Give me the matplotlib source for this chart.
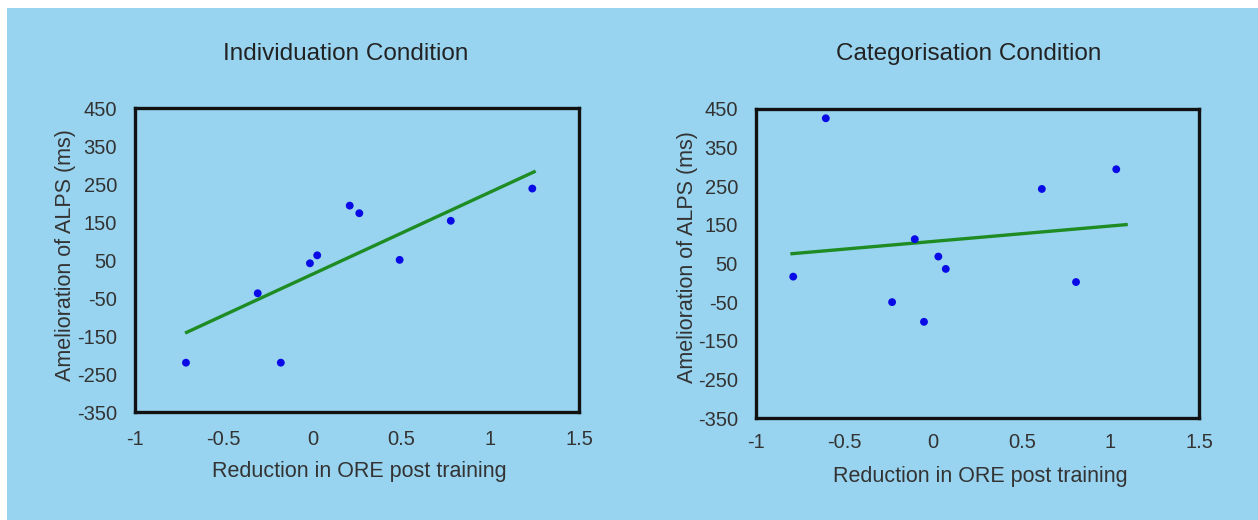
import matplotlib
matplotlib.use("Agg")
import matplotlib.pyplot as plt
from matplotlib.patches import Rectangle

plt.rcParams['font.family'] = ['Liberation Sans', 'DejaVu Sans']

# ---- data ----
ind_x = [-0.713, -0.179, -0.309, -0.015, 0.026, 0.209, 0.263, 0.490, 0.778, 1.237]
ind_y = [-220, -220, -37, 42, 63, 194, 174, 51, 154, 239]
ind_line_x = [-0.718, 1.256]
ind_line_y = [-142, 285]

cat_x = [-0.606, -0.790, -0.232, -0.104, -0.052, 0.029, 0.071, 0.613, 0.806, 1.033]
cat_y = [426, 16, -50, 113, -101, 68, 36, 243, 2, 294]
cat_line_x = [-0.806, 1.098]
cat_line_y = [75, 151]

xticks = [-1, -0.5, 0, 0.5, 1, 1.5]
xticklabels = ['-1', '-0.5', '0', '0.5', '1', '1.5']
yticks = [-350, -250, -150, -50, 50, 150, 250, 350, 450]

titles = ['Individuation Condition', 'Categorisation Condition']
xlabel = 'Reduction in ORE post training'
ylabel = 'Amelioration of ALPS (ms)'

BG = '#98D4F0'
W, H = 1258, 520
fig = plt.figure(figsize=(W / 100, H / 100), dpi=100, facecolor='white')
fig.patches.append(Rectangle((7 / W, 0), 1 - 7 / W, 1 - 8 / H,
                             transform=fig.transFigure, facecolor=BG,
                             edgecolor='none', zorder=-10))

def px_axes(l, r, t, b):
    return [l / W, 1 - b / H, (r - l) / W, (b - t) / H]

panels = [
    dict(rect=px_axes(135, 579, 108.5, 412), x=ind_x, y=ind_y, lx=ind_line_x, ly=ind_line_y,
         title_xy=(346, 60), xlab_xy=(359, 477), ylab_xy=(66, 255), xpad=13),
    dict(rect=px_axes(756, 1199, 109, 418), x=cat_x, y=cat_y, lx=cat_line_x, ly=cat_line_y,
         title_xy=(969, 60), xlab_xy=(980, 482), ylab_xy=(688, 257), xpad=11),
]

for p, title in zip(panels, titles):
    ax = fig.add_axes(p['rect'])
    ax.set_zorder(5)
    ax.set_facecolor('none')
    ax.plot(p['lx'], p['ly'], color='#1E8C23', lw=2.4, solid_capstyle='butt', zorder=2)
    ax.scatter(p['x'], p['y'], s=32, color='#0A0AE6', edgecolors='none', zorder=3)
    ax.set_xlim(-1, 1.5)
    ax.set_ylim(-350, 450)
    ax.set_xticks(xticks)
    ax.set_xticklabels(xticklabels)
    ax.set_yticks(yticks)
    ax.set_yticklabels([str(v) for v in yticks])
    ax.tick_params(axis='both', length=0, labelsize=14.5, colors='#333333')
    ax.tick_params(axis='x', pad=p['xpad'])
    ax.tick_params(axis='y', pad=13)
    for s in ax.spines.values():
        s.set_linewidth(2.4)
        s.set_color('#111111')
    tx, ty = p['title_xy']
    fig.text(tx / W, 1 - ty / H, title, ha='center', va='baseline',
             fontsize=17.5, color='#222222')
    xx, xy = p['xlab_xy']
    fig.text(xx / W, 1 - xy / H, xlabel, ha='center', va='baseline',
             fontsize=15.5, color='#333333')
    yx, yy = p['ylab_xy']
    fig.text(yx / W, 1 - yy / H, ylabel, ha='center', va='center', rotation=90,
             fontsize=15.5, color='#333333')

fig.savefig('out.png', dpi=100, facecolor=fig.get_facecolor())
